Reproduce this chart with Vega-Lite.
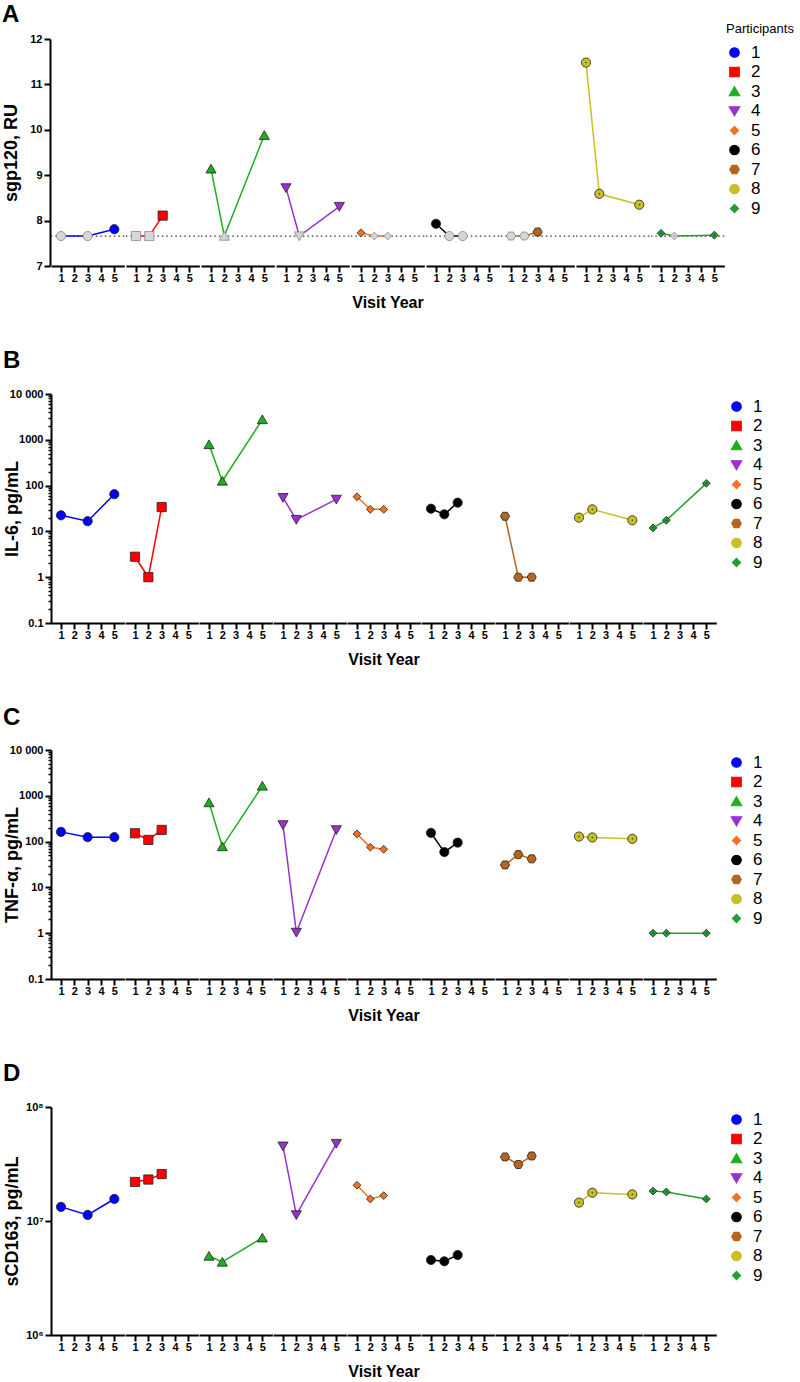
{
  "$schema": "https://vega.github.io/schema/vega-lite/v6.json",
  "padding": {"left": 2, "top": 3, "right": 0, "bottom": 0},
  "datasets": {
    "A": [
      {"p": 1, "v": 1, "val": 7.66, "lod": 1}, {"p": 1, "v": 3, "val": 7.66, "lod": 1}, {"p": 1, "v": 5, "val": 7.81, "lod": 0},
      {"p": 2, "v": 1, "val": 7.66, "lod": 1}, {"p": 2, "v": 2, "val": 7.66, "lod": 1}, {"p": 2, "v": 3, "val": 8.11, "lod": 0},
      {"p": 3, "v": 1, "val": 9.14, "lod": 0}, {"p": 3, "v": 2, "val": 7.66, "lod": 1}, {"p": 3, "v": 5, "val": 9.88, "lod": 0},
      {"p": 4, "v": 1, "val": 8.72, "lod": 0}, {"p": 4, "v": 2, "val": 7.66, "lod": 1}, {"p": 4, "v": 5, "val": 8.31, "lod": 0},
      {"p": 5, "v": 1, "val": 7.73, "lod": 0}, {"p": 5, "v": 2, "val": 7.66, "lod": 1}, {"p": 5, "v": 3, "val": 7.66, "lod": 1},
      {"p": 6, "v": 1, "val": 7.93, "lod": 0}, {"p": 6, "v": 2, "val": 7.66, "lod": 1}, {"p": 6, "v": 3, "val": 7.66, "lod": 1},
      {"p": 7, "v": 1, "val": 7.66, "lod": 1}, {"p": 7, "v": 2, "val": 7.66, "lod": 1}, {"p": 7, "v": 3, "val": 7.75, "lod": 0},
      {"p": 8, "v": 1, "val": 11.48, "lod": 0}, {"p": 8, "v": 2, "val": 8.59, "lod": 0}, {"p": 8, "v": 5, "val": 8.35, "lod": 0},
      {"p": 9, "v": 1, "val": 7.72, "lod": 0}, {"p": 9, "v": 2, "val": 7.66, "lod": 1}, {"p": 9, "v": 5, "val": 7.68, "lod": 0}
    ],
    "B": [
      {"p": 1, "v": 1, "val": 22.5}, {"p": 1, "v": 3, "val": 16.7}, {"p": 1, "v": 5, "val": 65},
      {"p": 2, "v": 1, "val": 2.8}, {"p": 2, "v": 2, "val": 1.0}, {"p": 2, "v": 3, "val": 34},
      {"p": 3, "v": 1, "val": 790}, {"p": 3, "v": 2, "val": 126}, {"p": 3, "v": 5, "val": 2770},
      {"p": 4, "v": 1, "val": 54.5}, {"p": 4, "v": 2, "val": 18.1}, {"p": 4, "v": 5, "val": 50},
      {"p": 5, "v": 1, "val": 57}, {"p": 5, "v": 2, "val": 30.3}, {"p": 5, "v": 3, "val": 30.3},
      {"p": 6, "v": 1, "val": 31.3}, {"p": 6, "v": 2, "val": 23.6}, {"p": 6, "v": 3, "val": 42.4},
      {"p": 7, "v": 1, "val": 21.4}, {"p": 7, "v": 2, "val": 1.0}, {"p": 7, "v": 3, "val": 1.0},
      {"p": 8, "v": 1, "val": 20}, {"p": 8, "v": 2, "val": 30.3}, {"p": 8, "v": 5, "val": 17.5},
      {"p": 9, "v": 1, "val": 11.9}, {"p": 9, "v": 2, "val": 17.5}, {"p": 9, "v": 5, "val": 112}
    ],
    "C": [
      {"p": 1, "v": 1, "val": 163}, {"p": 1, "v": 3, "val": 125}, {"p": 1, "v": 5, "val": 125},
      {"p": 2, "v": 1, "val": 152}, {"p": 2, "v": 2, "val": 109}, {"p": 2, "v": 3, "val": 180},
      {"p": 3, "v": 1, "val": 711}, {"p": 3, "v": 2, "val": 78}, {"p": 3, "v": 5, "val": 1640},
      {"p": 4, "v": 1, "val": 232}, {"p": 4, "v": 2, "val": 1.04}, {"p": 4, "v": 5, "val": 180},
      {"p": 5, "v": 1, "val": 147}, {"p": 5, "v": 2, "val": 75.5}, {"p": 5, "v": 3, "val": 68},
      {"p": 6, "v": 1, "val": 155}, {"p": 6, "v": 2, "val": 59}, {"p": 6, "v": 3, "val": 95},
      {"p": 7, "v": 1, "val": 31}, {"p": 7, "v": 2, "val": 52}, {"p": 7, "v": 3, "val": 42},
      {"p": 8, "v": 1, "val": 129}, {"p": 8, "v": 2, "val": 123}, {"p": 8, "v": 5, "val": 115},
      {"p": 9, "v": 1, "val": 1.0}, {"p": 9, "v": 2, "val": 1.0}, {"p": 9, "v": 5, "val": 1.0}
    ],
    "D": [
      {"p": 1, "v": 1, "val": 13300000}, {"p": 1, "v": 3, "val": 11300000}, {"p": 1, "v": 5, "val": 15600000},
      {"p": 2, "v": 1, "val": 22000000}, {"p": 2, "v": 2, "val": 23100000}, {"p": 2, "v": 3, "val": 25800000},
      {"p": 3, "v": 1, "val": 4930000}, {"p": 3, "v": 2, "val": 4370000}, {"p": 3, "v": 5, "val": 7130000},
      {"p": 4, "v": 1, "val": 45300000}, {"p": 4, "v": 2, "val": 11300000}, {"p": 4, "v": 5, "val": 47800000},
      {"p": 5, "v": 1, "val": 20600000}, {"p": 5, "v": 2, "val": 15600000}, {"p": 5, "v": 3, "val": 16700000},
      {"p": 6, "v": 1, "val": 4550000}, {"p": 6, "v": 2, "val": 4430000}, {"p": 6, "v": 3, "val": 5030000},
      {"p": 7, "v": 1, "val": 36500000}, {"p": 7, "v": 2, "val": 31300000}, {"p": 7, "v": 3, "val": 37200000},
      {"p": 8, "v": 1, "val": 14500000}, {"p": 8, "v": 2, "val": 17700000}, {"p": 8, "v": 5, "val": 17100000},
      {"p": 9, "v": 1, "val": 18300000}, {"p": 9, "v": 2, "val": 18000000}, {"p": 9, "v": 5, "val": 15600000}
    ]
  },
  "config": {
    "font": "Liberation Sans",
    "view": {"stroke": null},
    "title": {"fontSize": 24, "fontWeight": "bold", "anchor": "start", "frame": "bounds", "offset": 8, "color": "#000"},
    "axis": {
      "grid": false, "domainColor": "#000", "domainWidth": 2, "tickColor": "#000", "tickWidth": 2, "tickSize": 6,
      "labelFont": "Liberation Sans", "labelFontSize": 11, "labelFontWeight": "bold", "labelColor": "#000",
      "titleFont": "Liberation Sans", "titleFontSize": 18, "titleFontWeight": "bold", "titleColor": "#000"
    },
    "axisX": {"labelAngle": 0, "labelPadding": 0, "title": null},
    "axisY": {"minExtent": 27, "maxExtent": 27, "titlePadding": 3, "labelPadding": 2},
    "header": {"titleFont": "Liberation Sans", "titleFontSize": 16, "titleFontWeight": "bold", "titleColor": "#000"},
    "legend": {
      "labelFont": "Liberation Sans", "labelFontSize": 17, "labelColor": "#000", "symbolSize": 90, "rowPadding": 1.5,
      "titleFontSize": 13, "titleFontWeight": "normal", "titleColor": "#000", "titlePadding": 8, "offset": 7, "padding": 4, "labelOffset": 8,
      "symbolStrokeWidth": 1.2
    }
  },
  "spacing": 38,
  "resolve": {"scale": {"color": "independent", "shape": "independent"}, "legend": {"color": "independent", "shape": "independent"}},
  "vconcat": [
    {
      "title": {"text": "A", "offset": -8},
      "data": {"name": "A"},
      "facet": {"column": {"field": "p", "type": "ordinal", "header": {"labels": false, "title": "Visit Year", "titleOrient": "bottom", "titlePadding": 2}}},
      "spacing": 0,
      "spec": {
        "width": 73.33, "height": 227,
        "layer": [
          {
            "transform": [{"filter": "datum.v == 1"}],
            "mark": {"type": "rule", "strokeDash": [1.5, 3], "strokeWidth": 1.3, "color": "#333"},
            "encoding": {"y": {"datum": 7.66, "type": "quantitative", "scale": {"domain": [7, 12], "zero": false}}}
          },
          {
            "mark": {"type": "line", "strokeWidth": 1.5},
            "encoding": {
              "x": {"field": "v", "type": "ordinal", "scale": {"type": "point", "domain": [1, 2, 3, 4, 5], "padding": 0.75}},
              "y": {"field": "val", "type": "quantitative", "scale": {"domain": [7, 12], "zero": false}, "axis": {"title": "sgp120, RU", "values": [7, 8, 9, 10, 11, 12]}},
              "color": {"field": "p", "type": "nominal", "scale": {"domain": [1,2,3,4,5,6,7,8,9], "range": ["#0000ff", "#ff0000", "#1fae1f", "#9b30d0", "#f07324", "#000000", "#b5651d", "#c8c026", "#1f9e34"]},
                "legend": {"title": "Participants", "orient": "none", "legendX": 671, "legendY": -20}}
            }
          },
          {
            "mark": {"type": "point", "filled": true, "size": 85, "opacity": 1, "strokeWidth": 0.8},
            "encoding": {
              "x": {"field": "v", "type": "ordinal"},
              "y": {"field": "val", "type": "quantitative", "scale": {"domain": [7, 12], "zero": false}},
              "color": {"condition": {"test": "datum.lod == 1", "value": "#d6d6d6"}, "field": "p", "type": "nominal"},
              "stroke": {"condition": {"test": "datum.lod == 1", "value": "#888"}, "value": "#222"},
              "shape": {"field": "p", "type": "nominal", "scale": {"domain": [1,2,3,4,5,6,7,8,9], "range": ["circle", "square", "M0,-1L1.1,0.9L-1.1,0.9Z", "M0,1L1.1,-0.9L-1.1,-0.9Z", "M0,-0.85L0.85,0L0,0.85L-0.85,0Z", "circle", "M1,0L0.5,0.866L-0.5,0.866L-1,0L-0.5,-0.866L0.5,-0.866Z", "M-1,0A1,1,0,1,0,1,0A1,1,0,1,0,-1,0ZM-0.1,0A0.1,0.1,0,1,0,0.1,0A0.1,0.1,0,1,0,-0.1,0Z", "M0,-0.85L0.85,0L0,0.85L-0.85,0ZM-0.1,0A0.1,0.1,0,1,0,0.1,0A0.1,0.1,0,1,0,-0.1,0Z"]},
                "legend": {"title": "Participants", "orient": "none", "legendX": 671, "legendY": -20}}
            }
          }
        ]
      }
    },
    {
      "title": {"text": "B", "offset": 15},
      "data": {"name": "B"},
      "facet": {"column": {"field": "p", "type": "ordinal", "header": {"labels": false, "title": "Visit Year", "titleOrient": "bottom", "titlePadding": 2}}},
      "spacing": 0,
      "spec": {
        "width": 73.33, "height": 229,
        "layer": [
          {
            "mark": {"type": "line", "strokeWidth": 1.5},
            "encoding": {
              "x": {"field": "v", "type": "ordinal", "scale": {"type": "point", "domain": [1, 2, 3, 4, 5], "padding": 0.75}},
              "y": {"field": "val", "type": "quantitative", "scale": {"type": "log", "domain": [0.1, 10000]}, "axis": {"title": "IL-6, pg/mL", "values": [0.1,0.2,0.3,0.4,0.5,0.6,0.7,0.8,0.9,1,2,3,4,5,6,7,8,9,10,20,30,40,50,60,70,80,90,100,200,300,400,500,600,700,800,900,1000,2000,3000,4000,5000,6000,7000,8000,9000,10000], "labelExpr": "abs(log(datum.value)/LN10 - round(log(datum.value)/LN10)) > 0.001 ? '' : datum.value > 9999 ? '10 000' : datum.value > 999 ? '1000' : datum.value > 99 ? '100' : datum.value > 9 ? '10' : datum.value > 0.9 ? '1' : '0.1'", "tickSize": {"condition": {"test": "abs(log(datum.value)/LN10 - round(log(datum.value)/LN10)) < 0.001", "value": 6}, "value": 3}, "tickWidth": {"condition": {"test": "abs(log(datum.value)/LN10 - round(log(datum.value)/LN10)) < 0.001", "value": 2}, "value": 1.5}}},
              "color": {"field": "p", "type": "nominal", "scale": {"domain": [1,2,3,4,5,6,7,8,9], "range": ["#0000ff", "#ff0000", "#1fae1f", "#9b30d0", "#f07324", "#000000", "#b5651d", "#c8c026", "#1f9e34"]}, "legend": {"title": null}}
            }
          },
          {
            "mark": {"type": "point", "filled": true, "size": 85, "opacity": 1, "strokeWidth": 0.8, "stroke": "#222"},
            "encoding": {
              "x": {"field": "v", "type": "ordinal"},
              "y": {"field": "val", "type": "quantitative"},
              "color": {"field": "p", "type": "nominal"},
              "shape": {"field": "p", "type": "nominal", "scale": {"domain": [1,2,3,4,5,6,7,8,9], "range": ["circle", "square", "M0,-1L1.1,0.9L-1.1,0.9Z", "M0,1L1.1,-0.9L-1.1,-0.9Z", "M0,-0.85L0.85,0L0,0.85L-0.85,0Z", "circle", "M1,0L0.5,0.866L-0.5,0.866L-1,0L-0.5,-0.866L0.5,-0.866Z", "M-1,0A1,1,0,1,0,1,0A1,1,0,1,0,-1,0ZM-0.1,0A0.1,0.1,0,1,0,0.1,0A0.1,0.1,0,1,0,-0.1,0Z", "M0,-0.85L0.85,0L0,0.85L-0.85,0ZM-0.1,0A0.1,0.1,0,1,0,0.1,0A0.1,0.1,0,1,0,-0.1,0Z"]}, "legend": {"title": null}}
            }
          }
        ]
      }
    },
    {
      "title": {"text": "C", "offset": 14},
      "data": {"name": "C"},
      "facet": {"column": {"field": "p", "type": "ordinal", "header": {"labels": false, "title": "Visit Year", "titleOrient": "bottom", "titlePadding": 2}}},
      "spacing": 0,
      "spec": {
        "width": 73.33, "height": 229,
        "layer": [
          {
            "mark": {"type": "line", "strokeWidth": 1.5},
            "encoding": {
              "x": {"field": "v", "type": "ordinal", "scale": {"type": "point", "domain": [1, 2, 3, 4, 5], "padding": 0.75}},
              "y": {"field": "val", "type": "quantitative", "scale": {"type": "log", "domain": [0.1, 10000]}, "axis": {"title": "TNF-α, pg/mL", "values": [0.1,0.2,0.3,0.4,0.5,0.6,0.7,0.8,0.9,1,2,3,4,5,6,7,8,9,10,20,30,40,50,60,70,80,90,100,200,300,400,500,600,700,800,900,1000,2000,3000,4000,5000,6000,7000,8000,9000,10000], "labelExpr": "abs(log(datum.value)/LN10 - round(log(datum.value)/LN10)) > 0.001 ? '' : datum.value > 9999 ? '10 000' : datum.value > 999 ? '1000' : datum.value > 99 ? '100' : datum.value > 9 ? '10' : datum.value > 0.9 ? '1' : '0.1'", "tickSize": {"condition": {"test": "abs(log(datum.value)/LN10 - round(log(datum.value)/LN10)) < 0.001", "value": 6}, "value": 3}, "tickWidth": {"condition": {"test": "abs(log(datum.value)/LN10 - round(log(datum.value)/LN10)) < 0.001", "value": 2}, "value": 1.5}}},
              "color": {"field": "p", "type": "nominal", "scale": {"domain": [1,2,3,4,5,6,7,8,9], "range": ["#0000ff", "#ff0000", "#1fae1f", "#9b30d0", "#f07324", "#000000", "#b5651d", "#c8c026", "#1f9e34"]}, "legend": {"title": null}}
            }
          },
          {
            "mark": {"type": "point", "filled": true, "size": 85, "opacity": 1, "strokeWidth": 0.8, "stroke": "#222"},
            "encoding": {
              "x": {"field": "v", "type": "ordinal"},
              "y": {"field": "val", "type": "quantitative"},
              "color": {"field": "p", "type": "nominal"},
              "shape": {"field": "p", "type": "nominal", "scale": {"domain": [1,2,3,4,5,6,7,8,9], "range": ["circle", "square", "M0,-1L1.1,0.9L-1.1,0.9Z", "M0,1L1.1,-0.9L-1.1,-0.9Z", "M0,-0.85L0.85,0L0,0.85L-0.85,0Z", "circle", "M1,0L0.5,0.866L-0.5,0.866L-1,0L-0.5,-0.866L0.5,-0.866Z", "M-1,0A1,1,0,1,0,1,0A1,1,0,1,0,-1,0ZM-0.1,0A0.1,0.1,0,1,0,0.1,0A0.1,0.1,0,1,0,-0.1,0Z", "M0,-0.85L0.85,0L0,0.85L-0.85,0ZM-0.1,0A0.1,0.1,0,1,0,0.1,0A0.1,0.1,0,1,0,-0.1,0Z"]}, "legend": {"title": null}}
            }
          }
        ]
      }
    },
    {
      "title": {"text": "D", "offset": 15},
      "data": {"name": "D"},
      "facet": {"column": {"field": "p", "type": "ordinal", "header": {"labels": false, "title": "Visit Year", "titleOrient": "bottom", "titlePadding": 2}}},
      "spacing": 0,
      "spec": {
        "width": 73.33, "height": 228,
        "layer": [
          {
            "mark": {"type": "line", "strokeWidth": 1.5},
            "encoding": {
              "x": {"field": "v", "type": "ordinal", "scale": {"type": "point", "domain": [1, 2, 3, 4, 5], "padding": 0.75}},
              "y": {"field": "val", "type": "quantitative", "scale": {"type": "log", "domain": [1000000, 100000000]}, "axis": {"title": "sCD163, pg/mL", "values": [1000000, 10000000, 100000000], "labelExpr": "datum.value > 90000000 ? '10⁸' : datum.value > 9000000 ? '10⁷' : '10⁶'"}},
              "color": {"field": "p", "type": "nominal", "scale": {"domain": [1,2,3,4,5,6,7,8,9], "range": ["#0000ff", "#ff0000", "#1fae1f", "#9b30d0", "#f07324", "#000000", "#b5651d", "#c8c026", "#1f9e34"]}, "legend": {"title": null}}
            }
          },
          {
            "mark": {"type": "point", "filled": true, "size": 85, "opacity": 1, "strokeWidth": 0.8, "stroke": "#222"},
            "encoding": {
              "x": {"field": "v", "type": "ordinal"},
              "y": {"field": "val", "type": "quantitative"},
              "color": {"field": "p", "type": "nominal"},
              "shape": {"field": "p", "type": "nominal", "scale": {"domain": [1,2,3,4,5,6,7,8,9], "range": ["circle", "square", "M0,-1L1.1,0.9L-1.1,0.9Z", "M0,1L1.1,-0.9L-1.1,-0.9Z", "M0,-0.85L0.85,0L0,0.85L-0.85,0Z", "circle", "M1,0L0.5,0.866L-0.5,0.866L-1,0L-0.5,-0.866L0.5,-0.866Z", "M-1,0A1,1,0,1,0,1,0A1,1,0,1,0,-1,0ZM-0.1,0A0.1,0.1,0,1,0,0.1,0A0.1,0.1,0,1,0,-0.1,0Z", "M0,-0.85L0.85,0L0,0.85L-0.85,0ZM-0.1,0A0.1,0.1,0,1,0,0.1,0A0.1,0.1,0,1,0,-0.1,0Z"]}, "legend": {"title": null}}
            }
          }
        ]
      }
    }
  ]
}
